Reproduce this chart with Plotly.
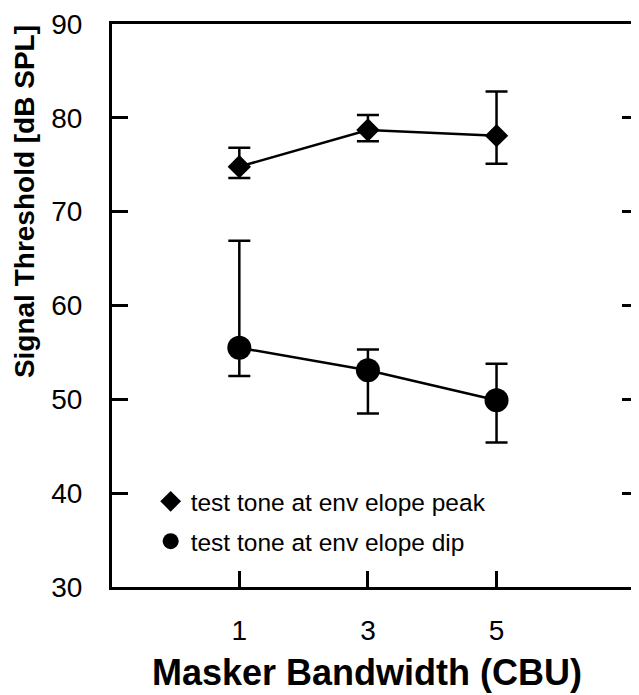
import plotly.graph_objects as go

# Data
bandwidth = [1, 3, 5]
peak_mean = [74.8, 78.7, 78.1]
peak_upper = [76.8, 80.3, 82.8]
peak_lower = [73.6, 77.5, 75.1]
dip_mean = [55.5, 53.1, 49.9]
dip_upper = [66.9, 55.3, 53.8]
dip_lower = [52.5, 48.5, 45.4]
x_ticks = [1, 3, 5]
y_ticks = [30, 40, 50, 60, 70, 80, 90]

peak_label = "test tone at env elope peak"
dip_label = "test tone at env elope dip"
x_title = "Masker Bandwidth (CBU)"
y_title = "Signal Threshold [dB SPL]"

FONT = "Liberation Sans, Arial, Helvetica, sans-serif"

def err(mean, upper, lower):
    return dict(
        type="data", symmetric=False,
        array=[u - m for u, m in zip(upper, mean)],
        arrayminus=[m - l for m, l in zip(mean, lower)],
        color="black", thickness=2.5, width=11,
    )

fig = go.Figure()
# connecting lines (no legend entry)
for ys in (peak_mean, dip_mean):
    fig.add_trace(go.Scatter(
        x=bandwidth, y=ys, mode="lines", showlegend=False, hoverinfo="skip",
        line=dict(color="black", width=2.5),
    ))
fig.add_trace(go.Scatter(
    x=bandwidth, y=peak_mean, mode="markers", name=peak_label,
    marker=dict(symbol="diamond", size=18, color="black"),
    error_y=err(peak_mean, peak_upper, peak_lower),
    legendgroup="a",
))
fig.add_trace(go.Scatter(
    x=bandwidth, y=dip_mean, mode="markers", name=dip_label,
    marker=dict(symbol="circle", size=24, color="black"),
    error_y=err(dip_mean, dip_upper, dip_lower),
    legendgroup="b",
))
# helper trace so the right-hand mirror axis is drawn
fig.add_trace(go.Scatter(x=[None], y=[None], yaxis="y2", showlegend=False,
                         hoverinfo="skip", mode="markers"))

fig.update_layout(
    width=631, height=687,
    margin=dict(l=104, r=1, t=11, b=108),
    paper_bgcolor="white", plot_bgcolor="white",
    font=dict(family=FONT, color="black"),
    showlegend=True,
    legend=dict(
        x=0.0735, y=0.192, xanchor="left", yanchor="top",
        bgcolor="rgba(0,0,0,0)", borderwidth=0,
        font=dict(size=24.5, family=FONT, color="black"),
        itemsizing="trace", tracegroupgap=5,
        traceorder="grouped",
    ),
    xaxis=dict(
        range=[-0.98, 7.2], tickvals=x_ticks,
        showline=True, linewidth=3, linecolor="black", mirror=True,
        ticks="inside", ticklen=16, tickwidth=3, tickcolor="black",
        tickfont=dict(size=28, family=FONT, color="black"),
        ticklabelstandoff=16,
        showgrid=False, zeroline=False,
    ),
    yaxis=dict(
        range=[30, 90], tickvals=y_ticks,
        showline=True, linewidth=3, linecolor="black",
        ticks="inside", ticklen=16, tickwidth=3, tickcolor="black",
        tickfont=dict(size=28, family=FONT, color="black"),
        ticklabelstandoff=21, ticklabeloverflow="allow",
        showgrid=False, zeroline=False,
    ),
    yaxis2=dict(
        range=[30, 90], tickvals=y_ticks, overlaying="y", side="right",
        showline=True, linewidth=1, linecolor="#777",
        ticks="inside", ticklen=16, tickwidth=3, tickcolor="black",
        showticklabels=False, showgrid=False, zeroline=False,
    ),
    annotations=[
        dict(text="<b>" + x_title + "</b>", xref="paper", yref="paper",
             x=0.484, y=-0.151, xanchor="center", yanchor="middle",
             showarrow=False, font=dict(size=36, family=FONT, color="black")),
        dict(text="<b>" + y_title + "</b>", xref="paper", yref="paper",
             x=-0.165, y=0.684, xanchor="center", yanchor="middle",
             textangle=-90, showarrow=False,
             font=dict(size=28, family=FONT, color="black")),
    ],
)

fig.write_html("out.html")
